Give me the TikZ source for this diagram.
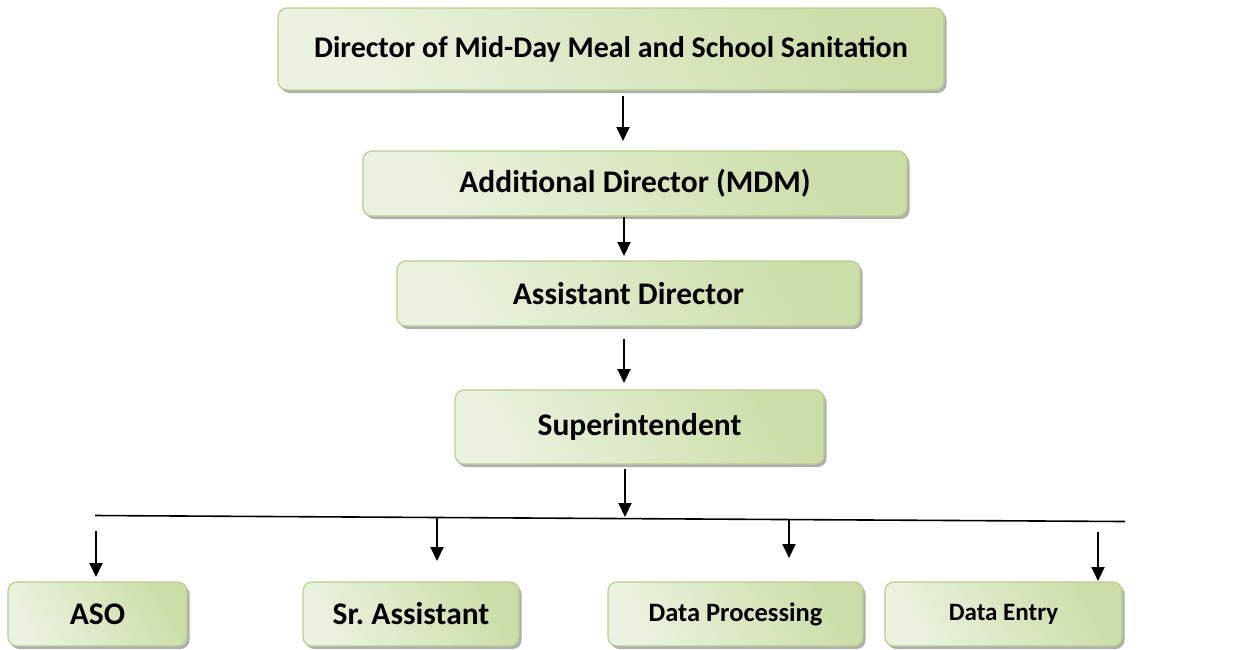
\documentclass[tikz,border=0pt]{standalone}
\usepackage{fontspec}
\setmainfont{Carlito}
\usetikzlibrary{arrows.meta,shadows}
\definecolor{boxlight}{HTML}{EBF2DF}
\definecolor{boxdark}{HTML}{CCDDA8}
\definecolor{boxedge}{HTML}{B8CE8C}
\tikzset{
  orgbox/.style={draw=boxedge, line width=1.2pt, rounded corners=9pt,
    shading=axis, left color=boxlight, right color=boxdark, shading angle=120,
    drop shadow={shadow xshift=2.5pt, shadow yshift=-3pt, fill=black!45, opacity=0.7},
    font=\bfseries\fontsize{31.5}{36}\selectfont, inner sep=0pt, anchor=center},
  topbox/.style={orgbox, font=\bfseries\fontsize{30}{34}\selectfont},
  smallbox/.style={orgbox, font=\bfseries\fontsize{26.5}{30}\selectfont},
  entrybox/.style={orgbox, font=\bfseries\fontsize{25}{29}\selectfont},
  arr/.style={line width=1.9pt, -{Triangle[width=13pt,length=14pt]}},
  hline/.style={line width=1.6pt}
}
\begin{document}
\begin{tikzpicture}[x=1pt,y=-1pt]
\useasboundingbox (0,0) rectangle (1239,649);
\node[topbox, minimum width=666pt, minimum height=82pt] (dir) at (611,49) {Director of Mid-Day Meal and School Sanitation};
\node[orgbox, minimum width=544pt, minimum height=65pt] (add) at (635,183.5) {Additional Director (MDM)};
\node[orgbox, minimum width=463pt, minimum height=65pt] (asst) at (628.5,293.5) {Assistant Director};
\node[orgbox, minimum width=369pt, minimum height=74pt] (sup) at (639.5,427) {Superintendent};
\node[orgbox, minimum width=179pt, minimum height=64pt] (aso) at (97.5,614) {ASO};
\node[orgbox, minimum width=216pt, minimum height=64pt] (sra) at (411,614) {Sr.\ Assistant};
\node[smallbox, minimum width=255pt, minimum height=64pt] (dp) at (735.5,614) {Data Processing};
\node[entrybox, minimum width=237pt, minimum height=64pt] (de) at (1003.5,614) {Data Entry};

\coordinate (a1s) at (623,96);  \coordinate (a1e) at (623,141);
\coordinate (a2s) at (624,217); \coordinate (a2e) at (624,256);
\coordinate (a3s) at (624,339); \coordinate (a3e) at (624,383);
\coordinate (a4s) at (625,469); \coordinate (a4e) at (625,517);
\coordinate (hl) at (95,515.5); \coordinate (hr) at (1125,521.5);
\coordinate (b1s) at (96,531);  \coordinate (b1e) at (96,577);
\coordinate (b2s) at (437,518); \coordinate (b2e) at (437,561);
\coordinate (b3s) at (789,520); \coordinate (b3e) at (789,558);
\coordinate (b4s) at (1098,532);\coordinate (b4e) at (1098,581);

\draw[arr] (a1s) -- (a1e);
\draw[arr] (a2s) -- (a2e);
\draw[arr] (a3s) -- (a3e);
\draw[arr] (a4s) -- (a4e);
\draw[hline] (hl) -- (hr);
\draw[arr] (b1s) -- (b1e);
\draw[arr] (b2s) -- (b2e);
\draw[arr] (b3s) -- (b3e);
\draw[arr] (b4s) -- (b4e);
\end{tikzpicture}
\end{document}
